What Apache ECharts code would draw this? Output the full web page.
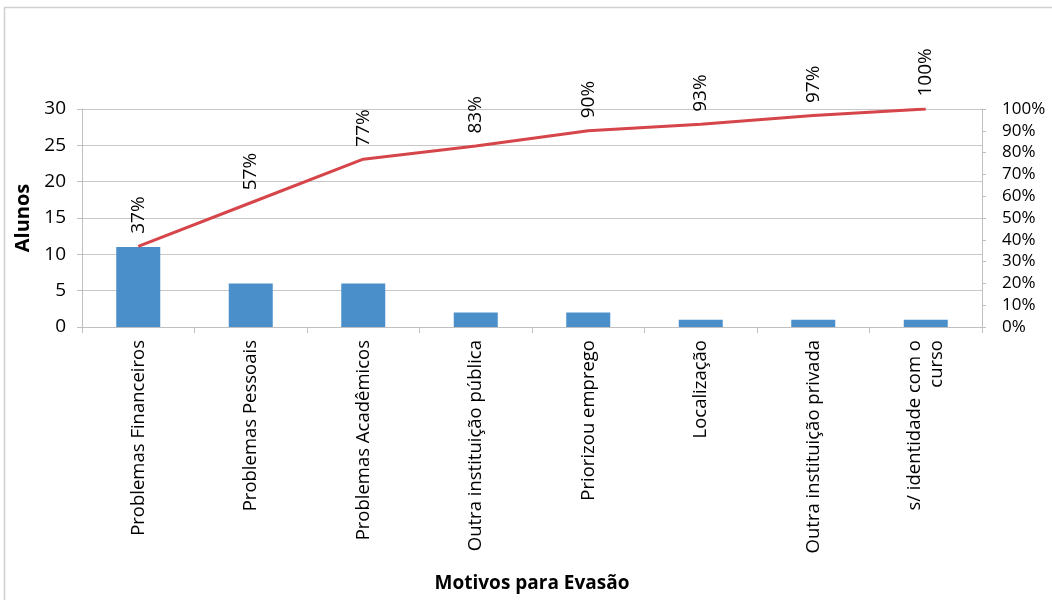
<!DOCTYPE html>
<html>
<head>
<meta charset="utf-8">
<script src="https://cdn.jsdelivr.net/npm/echarts@6/dist/echarts.min.js"></script>
<style>
html,body{margin:0;padding:0;background:#fff;}
#chart{width:1052px;height:600px;}
</style>
</head>
<body>
<div id="chart"></div>
<script>
const categories = [
  "Problemas Financeiros",
  "Problemas Pessoais",
  "Problemas Acadêmicos",
  "Outra instituição pública",
  "Priorizou emprego",
  "Localização",
  "Outra instituição privada",
  "s/ identidade com o\ncurso"
];
const alunos = [11, 6, 6, 2, 2, 1, 1, 1];
const cumulativePct = [37, 57, 77, 83, 90, 93, 97, 100];
const leftTicks = [0, 5, 10, 15, 20, 25, 30];
const rightTicks = [0, 10, 20, 30, 40, 50, 60, 70, 80, 90, 100];

const FONT = "'Open Sans', 'Liberation Sans', sans-serif";
const chart = echarts.init(document.getElementById('chart'));
chart.setOption({
  animation: false,
  backgroundColor: '#ffffff',
  graphic: [{
    type: 'rect',
    shape: { x: 4.5, y: 7.5, width: 1100, height: 700 },
    style: { fill: 'none', stroke: '#d0d0d0', lineWidth: 1.5 },
    silent: true
  }],
  grid: { left: 82, right: 70, top: 109, bottom: 273 },
  xAxis: {
    type: 'category',
    data: categories,
    name: 'Motivos para Evasão',
    nameLocation: 'middle',
    nameGap: 247,
    nameTextStyle: { fontFamily: FONT, fontSize: 19, fontWeight: 'bold', color: '#000' },
    axisLine: { lineStyle: { color: '#bfbfbf', width: 1 } },
    axisTick: { show: true, length: 6, lineStyle: { color: '#bfbfbf' } },
    axisLabel: {
      rotate: 90, interval: 0, margin: 13,
      fontFamily: FONT, fontSize: 18.5, color: '#000', lineHeight: 22
    }
  },
  yAxis: [{
    type: 'value',
    min: leftTicks[0], max: leftTicks[leftTicks.length - 1], interval: 5,
    name: 'Alunos',
    nameLocation: 'middle',
    nameGap: 47,
    nameRotate: 90,
    nameTextStyle: { fontFamily: FONT, fontSize: 20, fontWeight: 'bold', color: '#000' },
    axisLine: { show: true, lineStyle: { color: '#bfbfbf' } },
    axisTick: { show: true, length: 5, lineStyle: { color: '#bfbfbf' } },
    axisLabel: { fontFamily: FONT, fontSize: 19, color: '#000', margin: 16 },
    splitLine: { show: true, lineStyle: { color: '#c8c8c8', width: 1 } }
  }, {
    type: 'value',
    position: 'right',
    min: rightTicks[0], max: rightTicks[rightTicks.length - 1], interval: 10,
    axisLine: { show: true, lineStyle: { color: '#bfbfbf' } },
    axisTick: { show: true, length: 4, lineStyle: { color: '#bfbfbf' } },
    axisLabel: { fontFamily: FONT, fontSize: 17, color: '#000', margin: 20, formatter: '{value}%' },
    splitLine: { show: false }
  }],
  series: [{
    type: 'bar',
    data: alunos,
    yAxisIndex: 0,
    barWidth: 44,
    itemStyle: { color: '#4a8fca' }
  }, {
    type: 'line',
    data: cumulativePct,
    yAxisIndex: 1,
    symbol: 'circle',
    symbolSize: 1,
    showSymbol: true,
    itemStyle: { color: 'rgba(0,0,0,0)' },
    lineStyle: { color: '#d6454a', width: 3 },
    label: {
      show: true, position: 'top', distance: 12, rotate: 90,
      align: 'left', verticalAlign: 'middle',
      fontFamily: FONT, fontSize: 19, color: '#000',
      formatter: p => p.value + '%'
    },
    labelLayout: { hideOverlap: false }
  }]
});
</script>
</body>
</html>
